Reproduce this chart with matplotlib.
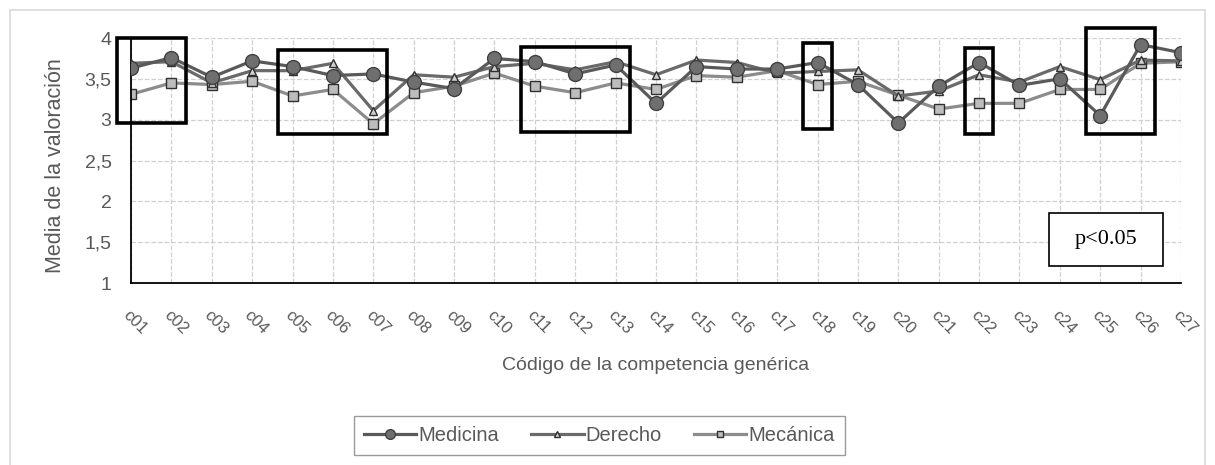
import matplotlib.pyplot as plt
import numpy as np
from matplotlib.patches import Rectangle

# Datos (media de la valoración por competencia genérica)
codigos = ["c%02d" % i for i in range(1, 28)]
medicina = [3.63, 3.76, 3.52, 3.72, 3.65, 3.54, 3.56, 3.46, 3.38, 3.75,
            3.71, 3.56, 3.67, 3.20, 3.65, 3.62, 3.62, 3.70, 3.43, 2.96,
            3.41, 3.70, 3.42, 3.50, 3.05, 3.92, 3.82]
derecho = [3.69, 3.71, 3.45, 3.60, 3.60, 3.69, 3.11, 3.55, 3.52, 3.65,
           3.69, 3.61, 3.71, 3.55, 3.73, 3.70, 3.57, 3.59, 3.61, 3.29,
           3.35, 3.55, 3.46, 3.65, 3.49, 3.73, 3.72]
mecanica = [3.31, 3.45, 3.43, 3.47, 3.29, 3.37, 2.95, 3.33, 3.41, 3.57,
            3.41, 3.33, 3.45, 3.37, 3.54, 3.52, 3.60, 3.43, 3.47, 3.30,
            3.13, 3.20, 3.20, 3.37, 3.37, 3.69, 3.71]
y_ticks = [1, 1.5, 2, 2.5, 3, 3.5, 4]
y_labels = ["1", "1,5", "2", "2,5", "3", "3,5", "4"]

# Grupos resaltados (primer código, último código, y inferior, y superior)
resaltados = [("c01", "c02", 2.96, 4.00),
              ("c05", "c07", 2.82, 3.85),
              ("c11", "c13", 2.85, 3.89),
              ("c18", "c18", 2.89, 3.94),
              ("c22", "c22", 2.83, 3.88),
              ("c25", "c26", 2.83, 4.12)]

plt.rcParams['font.family'] = ['Liberation Sans', 'DejaVu Sans']
gris = "#595959"

fig = plt.figure(figsize=(12.15, 4.65), dpi=100)
ax = fig.add_axes([131 / 1215, 1 - 283 / 465, 1050 / 1215, 245 / 465])

# Marco exterior del gráfico
fig.patches.append(Rectangle((10 / 1215, -0.05), 1195 / 1215, 1.05 - 10 / 465,
                             transform=fig.transFigure, fill=False,
                             edgecolor="#d9d9d9", lw=1.2))

x = np.arange(len(codigos))
ax.plot(x, medicina, color="#5a5a5a", lw=2.3, marker="o", markersize=10,
        markerfacecolor="#6f6f6f", markeredgecolor="#404040", label="Medicina", zorder=4)
ax.plot(x, derecho, color="#6a6a6a", lw=2.3, marker="^", markersize=6,
        markerfacecolor="#d0d0d0", markeredgecolor="#303030", label="Derecho", zorder=3)
ax.plot(x, mecanica, color="#8c8c8c", lw=2.3, marker="s", markersize=7,
        markerfacecolor="#bdbdbd", markeredgecolor="#303030", label="Mecánica", zorder=2)

for c0, c1, y0, y1 in resaltados:
    i0, i1 = codigos.index(c0), codigos.index(c1)
    ax.add_patch(Rectangle((i0 - 0.35, y0), (i1 - i0) + 0.7, y1 - y0, fill=False,
                           edgecolor="black", lw=2.6, zorder=6, clip_on=False))

# Recuadro p<0.05
ax.add_patch(Rectangle((0.874, 0.069), 0.109, 0.217, transform=ax.transAxes,
                       facecolor="white", edgecolor="black", lw=1.2, zorder=7))
ax.text(0.9286, 0.178, "p<0.05", transform=ax.transAxes, ha="center", va="center",
        fontsize=16, family="Liberation Serif", zorder=8)

ax.set_xlim(0, len(codigos) - 1)
ax.set_ylim(1, 4)
ax.set_xticks(x)
ax.set_xticklabels(codigos, rotation=-45, ha="left", va="top", rotation_mode="anchor",
                   fontsize=12, color=gris)
ax.set_yticks(y_ticks)
ax.set_yticklabels(y_labels, fontsize=14, color=gris)
ax.tick_params(axis="both", length=0)
ax.tick_params(axis="y", pad=14)
ax.tick_params(axis="x", pad=18)
ax.grid(True, color="#d0d0d0", ls="--", lw=0.9)
ax.set_axisbelow(True)
for s in ["top", "right"]:
    ax.spines[s].set_visible(False)
for s in ["left", "bottom"]:
    ax.spines[s].set_color("black")
    ax.spines[s].set_linewidth(1.3)

ax.set_ylabel("Media de la valoración", fontsize=15.5, color=gris)
ax.yaxis.set_label_coords(-0.062, 0.478)
ax.set_xlabel("Código de la competencia genérica", fontsize=14, color=gris)
ax.xaxis.set_label_coords(0.5, -0.30)

leg = ax.legend(loc="upper center", bbox_to_anchor=(0.446, -0.50), ncol=3, frameon=True,
                fancybox=False, edgecolor="#808080", fontsize=14.5, handlelength=2.6,
                handletextpad=0.1, columnspacing=1.6, borderpad=0.5)
leg.get_frame().set_linewidth(1.0)
for t in leg.get_texts():
    t.set_color(gris)
for h, ms in zip(leg.legend_handles, [7, 4, 5]):
    h.set_markersize(ms)

fig.savefig("out.png", dpi=100)
